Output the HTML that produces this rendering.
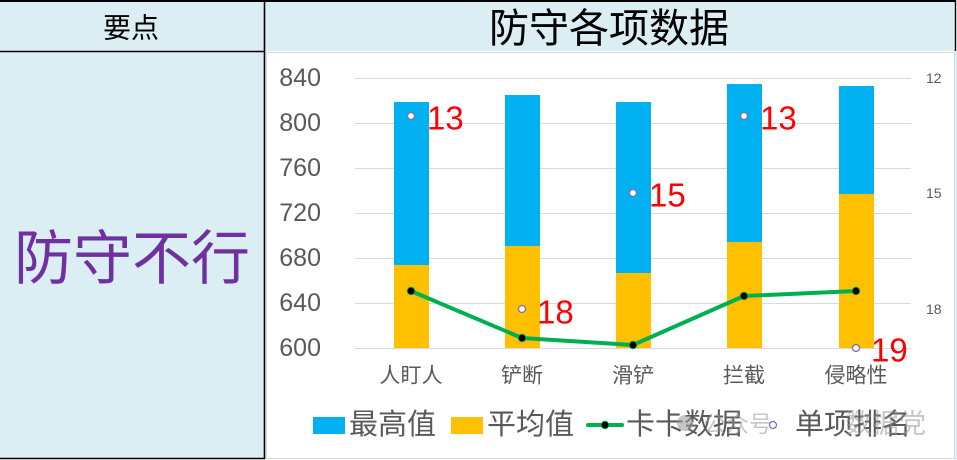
<!DOCTYPE html>
<html><head><meta charset="utf-8"><style>
html,body{margin:0;padding:0;background:#fff;}
svg{display:block;}
text{font-family:"Liberation Sans","Noto Sans CJK SC",sans-serif;}
</style></head><body>
<svg width="957" height="460" viewBox="0 0 957 460" xmlns="http://www.w3.org/2000/svg">
<rect x="0" y="0" width="957" height="460" fill="#ffffff"/>
<rect x="0" y="0" width="265" height="459" fill="#DAEEF3"/>
<rect x="265" y="0" width="691" height="51" fill="#DAEEF3"/>
<rect x="955" y="51" width="2" height="409" fill="#DAEEF3"/>
<rect x="266.5" y="52.5" width="688" height="406" fill="#ffffff" stroke="#d9d9d9" stroke-width="1"/>
<!-- borders -->
<line x1="0" y1="1" x2="956" y2="1" stroke="#000" stroke-width="2"/>
<line x1="264.5" y1="0" x2="264.5" y2="459" stroke="#000" stroke-width="1.6"/>
<line x1="0" y1="51.5" x2="265" y2="51.5" stroke="#000" stroke-width="1.4"/>
<line x1="955.5" y1="0" x2="955.5" y2="51" stroke="#000" stroke-width="1.4"/>
<line x1="0" y1="458.5" x2="265" y2="458.5" stroke="#000" stroke-width="1.4"/>
<!-- header texts -->
<text x="131" y="28" font-size="28" text-anchor="middle" dominant-baseline="central" fill="#000">要点</text>
<text x="609" y="29" font-size="40" text-anchor="middle" dominant-baseline="central" fill="#000">防守各项数据</text>
<text x="132" y="259" font-size="59" text-anchor="middle" dominant-baseline="central" fill="#7030A0">防守不行</text>
<!-- gridlines -->
<g stroke="#d9d9d9" stroke-width="1">
<line x1="355" y1="78.5" x2="911" y2="78.5"/>
<line x1="355" y1="123.5" x2="911" y2="123.5"/>
<line x1="355" y1="168.5" x2="911" y2="168.5"/>
<line x1="355" y1="213.5" x2="911" y2="213.5"/>
<line x1="355" y1="258.5" x2="911" y2="258.5"/>
<line x1="355" y1="303.5" x2="911" y2="303.5"/>
<line x1="355" y1="348.5" x2="911" y2="348.5"/>
</g>
<!-- y labels -->
<g font-size="25" fill="#595959" text-anchor="end" dominant-baseline="central">
<text x="321" y="78">840</text>
<text x="321" y="123">800</text>
<text x="321" y="168">760</text>
<text x="321" y="213">720</text>
<text x="321" y="258">680</text>
<text x="321" y="303">640</text>
<text x="321" y="348">600</text>
</g>
<g font-size="14" fill="#595959" dominant-baseline="central">
<text x="926" y="78">12</text>
<text x="926" y="193">15</text>
<text x="926" y="309">18</text>
</g>
<!-- bars -->
<g fill="#00B0F0">
<rect x="394" y="102" width="35" height="246"/>
<rect x="505" y="95" width="35" height="253"/>
<rect x="616" y="102" width="35" height="246"/>
<rect x="727" y="84" width="35" height="264"/>
<rect x="839" y="86" width="35" height="262"/>
</g>
<g fill="#FFC000">
<rect x="394" y="265" width="35" height="83"/>
<rect x="505" y="246" width="35" height="102"/>
<rect x="616" y="273" width="35" height="75"/>
<rect x="727" y="242" width="35" height="106"/>
<rect x="839" y="194" width="35" height="154"/>
</g>
<!-- green line -->
<polyline points="411,291 522,338 633,345 744,296 856,291" fill="none" stroke="#00B050" stroke-width="4" stroke-linejoin="round" stroke-linecap="round"/>
<g fill="#000" stroke="#00B050" stroke-width="0.8">
<circle cx="411" cy="291" r="3.8"/>
<circle cx="522" cy="338" r="3.8"/>
<circle cx="633" cy="345" r="3.8"/>
<circle cx="744" cy="296" r="3.8"/>
<circle cx="856" cy="291" r="3.8"/>
</g>
<!-- rank markers -->
<g fill="#fff" stroke="#7F6FB0" stroke-width="1.3">
<circle cx="411" cy="116" r="3.5"/>
<circle cx="522" cy="309" r="3.5"/>
<circle cx="633" cy="193" r="3.5"/>
<circle cx="744" cy="116" r="3.5"/>
<circle cx="856" cy="348" r="3.5"/>
</g>
<g font-size="33" fill="#FF0000" dominant-baseline="central">
<text x="427" y="118">13</text>
<text x="537" y="312">18</text>
<text x="649" y="195">15</text>
<text x="760" y="118">13</text>
<text x="871" y="350">19</text>
</g>
<!-- categories -->
<g font-size="21" fill="#595959" text-anchor="middle" dominant-baseline="central">
<text x="411" y="376">人盯人</text>
<text x="522" y="376">铲断</text>
<text x="633" y="376">滑铲</text>
<text x="744" y="376">拦截</text>
<text x="856" y="376">侵略性</text>
</g>
<!-- legend -->
<rect x="313" y="417" width="32" height="17" fill="#00B0F0"/>
<rect x="451" y="417" width="32" height="17" fill="#FFC000"/>
<line x1="588" y1="425" x2="622" y2="425" stroke="#00B050" stroke-width="4" stroke-linecap="round"/>
<circle cx="605" cy="425" r="3.8" fill="#000" stroke="#00B050" stroke-width="0.8"/>
<g font-size="29" fill="#595959" dominant-baseline="central">
<text x="349" y="425">最高值</text>
<text x="487" y="425">平均值</text>
<text x="626" y="425">卡卡数据</text>
<text x="795" y="425">单项排名</text>
</g>
<!-- watermark -->
<g opacity="0.55">
<circle cx="685" cy="423" r="8" fill="#999"/>
<text x="703" y="424" font-size="23" fill="#999" dominant-baseline="central">公众号</text>
<text x="845" y="424" font-size="27" fill="#999" dominant-baseline="central">数据党</text>
</g>
<circle cx="773" cy="425" r="3.5" fill="#fff" stroke="#7F6FB0" stroke-width="1.3"/>
</svg>
</body></html>
